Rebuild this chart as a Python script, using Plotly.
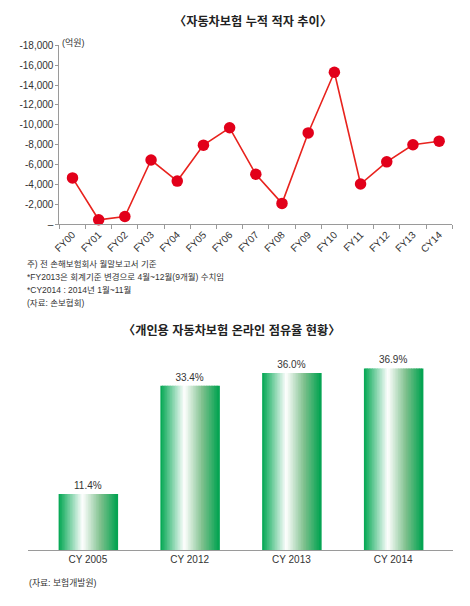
import plotly.graph_objects as go

# top chart: cumulative deficit (100 million won)
years = ["FY00", "FY01", "FY02", "FY03", "FY04", "FY05", "FY06", "FY07",
         "FY08", "FY09", "FY10", "FY11", "FY12", "FY13", "CY14"]
deficit = [-4650, -430, -760, -6450, -4330, -7950, -9700, -5020,
           -2080, -9180, -15300, -4030, -6270, -7990, -8350]
y_ticks = [0, -2000, -4000, -6000, -8000, -10000, -12000, -14000, -16000, -18000]
y_tick_text = ["–", "-2,000", "-4,000", "-6,000", "-8,000", "-10,000",
               "-12,000", "-14,000", "-16,000", "-18,000"]

# bottom chart: online share of personal auto insurance (%)
share_years = ["CY 2005", "CY 2012", "CY 2013", "CY 2014"]
share = [11.4, 33.4, 36.0, 36.9]

notes = ["주) 전 손해보험회사 월말보고서 기준",
         "*FY2013은 회계기준 변경으로 4월~12월(9개월) 수치임",
         "*CY2014 : 2014년 1월~11월",
         "(자료: 손보협회)"]

PAGE_W, PAGE_H = 470, 606
PAD = 8  # default body margin of the page
W, H = PAGE_W - PAD, PAGE_H - PAD
FONT = "Liberation Sans, Noto Sans CJK KR, sans-serif"
TXT = "#333333"
AXIS = "#9a9a9a"


# positions measured on the page, converted to paper fractions
def px_x(p):
    return (p - PAD) / W


def px_y(p):
    return 1 - (p - PAD) / H


def lerp(c1, c2, t):
    return tuple(int(round(a + (b - a) * t)) for a, b in zip(c1, c2))


def green_at(t):
    # horizontal shading of the bars: green -> white -> green
    stops = [(0.0, (0, 166, 81)), (0.41, (255, 255, 255)),
             (0.72, (125, 192, 140)), (1.0, (0, 163, 80))]
    for (t0, c0), (t1, c1) in zip(stops, stops[1:]):
        if t <= t1:
            return "rgb(%d,%d,%d)" % lerp(c0, c1, (t - t0) / (t1 - t0))
    return "rgb(0,163,80)"


fig = go.Figure()

fig.add_trace(go.Scatter(
    x=years, y=deficit, mode="lines+markers",
    line=dict(color="#e8231e", width=1.6),
    marker=dict(color="#e2001a", size=11.5),
    cliponaxis=False, showlegend=False,
    xaxis="x", yaxis="y"))

# bars built from thin overlapping slices to get the shaded look
bar_w = 0.575
n_slices = 36
for i in range(n_slices):
    fig.add_trace(go.Bar(
        x=share_years, y=share,
        width=bar_w / n_slices * 1.6,
        offset=-bar_w / 2 + i * bar_w / n_slices,
        marker=dict(color=green_at((i + 0.5) / n_slices), line=dict(width=0)),
        hoverinfo="skip", showlegend=False,
        xaxis="x2", yaxis="y2"))

fig.add_trace(go.Bar(
    x=share_years, y=share, width=bar_w,
    marker=dict(color="rgba(0,0,0,0)", line=dict(width=0)),
    text=["%.1f%%" % v for v in share], textposition="outside",
    textfont=dict(size=10, color=TXT, family=FONT),
    cliponaxis=False, showlegend=False,
    xaxis="x2", yaxis="y2"))

fig.update_layout(
    width=W, height=H,
    margin=dict(l=0, r=0, t=0, b=0),
    paper_bgcolor="white", plot_bgcolor="white",
    font=dict(family=FONT, size=10, color=TXT),
    barmode="overlay",
    xaxis=dict(domain=[px_x(54), px_x(452)], range=[-0.5, 14.5],
               type="category", showgrid=False, zeroline=False,
               showline=True, linecolor=AXIS, linewidth=1,
               ticks="outside", tickson="boundaries", ticklen=4,
               tickcolor=AXIS, tickangle=-45,
               tickfont=dict(size=10, color=TXT), anchor="y"),
    yaxis=dict(domain=[px_y(223), px_y(41)], range=[0, -18000],
               tickvals=y_ticks, ticktext=y_tick_text,
               showgrid=False, zeroline=False,
               showline=True, linecolor=AXIS, linewidth=1,
               ticks="outside", ticklen=3, tickcolor=AXIS,
               tickfont=dict(size=10, color=TXT), anchor="x"),
    xaxis2=dict(domain=[px_x(22), px_x(453)], range=[-0.59, 3.59],
                type="category", showgrid=False, zeroline=False,
                showline=True, linecolor=AXIS, linewidth=1,
                ticks="", tickfont=dict(size=10, color=TXT), anchor="y2"),
    yaxis2=dict(domain=[px_y(555.3), px_y(340)], range=[0, 42.9],
                visible=False, anchor="x2"),
)

annotations = [
    dict(text="<b>〈자동차보험 누적 적자 추이〉</b>", x=px_x(250), y=px_y(17),
         font=dict(size=12.2, color="#222222")),
    dict(text="(억원)", x=px_x(55), y=px_y(38), xanchor="left",
         font=dict(size=9, color=TXT)),
    dict(text="<b>〈개인용 자동차보험 온라인 점유율 현황〉</b>", x=px_x(228), y=px_y(331),
         font=dict(size=12.2, color="#222222")),
    dict(text="(자료: 보험개발원)", x=px_x(21), y=px_y(589), xanchor="left",
         font=dict(size=8.8, color=TXT)),
]
for k, line in enumerate(notes):
    annotations.append(dict(text=line, x=px_x(19), y=px_y(264 + k * 13.2),
                            xanchor="left", font=dict(size=8.5, color=TXT)))
for a in annotations:
    a.update(xref="paper", yref="paper", showarrow=False, yanchor="middle")
    a.setdefault("xanchor", "center")
fig.update_layout(annotations=annotations)

fig.write_html("out.html")
